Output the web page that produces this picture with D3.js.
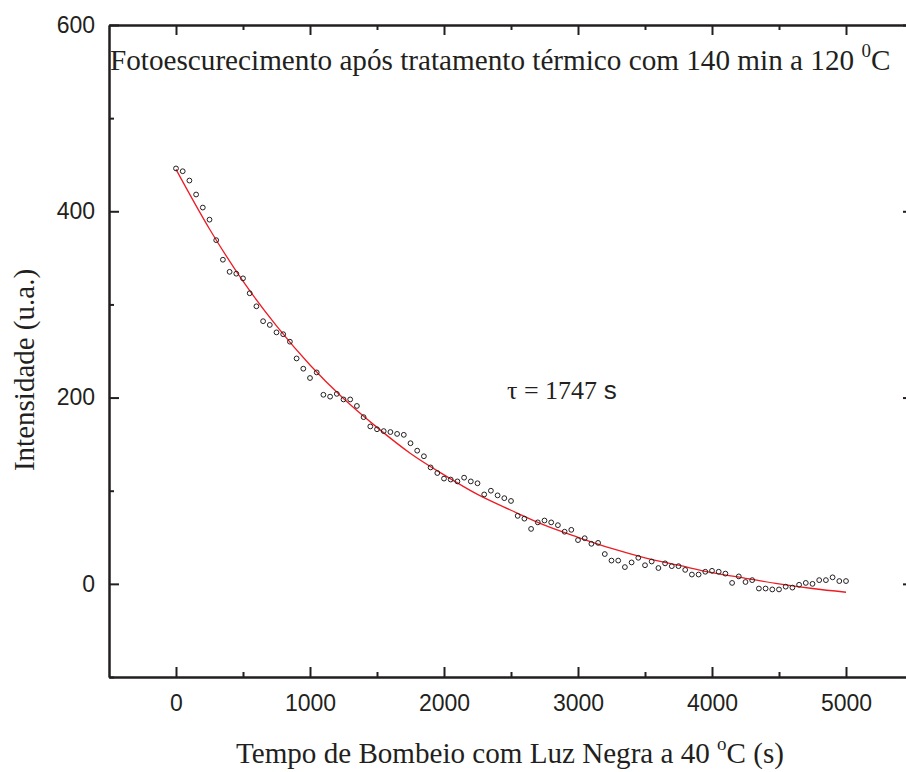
<!DOCTYPE html>
<html>
<head>
<meta charset="utf-8">
<script src="https://cdn.jsdelivr.net/npm/d3@7"></script>
<style>
  body { margin: 0; background: #fff; }
  svg { display: block; }
  .axis path, .axis line { stroke: #231f20; }
  .axis text { font-family: "Liberation Sans", Arial, sans-serif; font-size: 23px; fill: #231f20; }
  .serif { font-family: "Liberation Serif", "Times New Roman", serif; fill: #231f20; }
</style>
</head>
<body>
<svg id="chart"></svg>
<script>
// tempo (s)
const tempo = [0, 50, 100, 150, 200, 250, 300, 350, 400, 450, 500, 550, 600, 650, 700, 750, 800, 850, 900, 950,
  1000, 1050, 1100, 1150, 1200, 1250, 1300, 1350, 1400, 1450, 1500, 1550, 1600, 1650, 1700, 1750, 1800, 1850, 1900, 1950,
  2000, 2050, 2100, 2150, 2200, 2250, 2300, 2350, 2400, 2450, 2500, 2550, 2600, 2650, 2700, 2750, 2800, 2850, 2900, 2950,
  3000, 3050, 3100, 3150, 3200, 3250, 3300, 3350, 3400, 3450, 3500, 3550, 3600, 3650, 3700, 3750, 3800, 3850, 3900, 3950,
  4000, 4050, 4100, 4150, 4200, 4250, 4300, 4350, 4400, 4450, 4500, 4550, 4600, 4650, 4700, 4750, 4800, 4850, 4900, 4950,
  5000];
// intensidade medida (u.a.)
const intensidade = [446, 443, 433, 418, 404, 391, 369, 348, 335, 333, 328, 312, 298, 282, 278, 270, 268, 260, 242, 231,
  221, 227, 203, 201, 204, 198, 198, 191, 179, 169, 166, 164, 163, 161, 160, 151, 143, 137, 125, 119,
  113, 112, 110, 114, 110, 108, 96, 100, 95, 92, 89, 73, 70, 59, 66, 68, 66, 63, 56, 58,
  47, 49, 43, 44, 32, 25, 25, 18, 23, 28, 20, 24, 17, 22, 19, 19, 15, 10, 10, 13,
  14, 13, 11, 1, 8, 2, 4, -5, -5, -6, -6, -3, -4, -1, 1, 0, 4, 4, 7, 3,
  3];
// ajuste exponencial (tau = 1747 s)
const tempoAjuste = [0, 250, 500, 750, 1000, 1250, 1500, 1750, 2000, 2250, 2500,
  2750, 3000, 3250, 3500, 3750, 4000, 4250, 4500, 4750, 5000];
const ajuste = [445, 381, 325, 277, 235, 199, 168, 140, 117, 96, 79,
  63, 50, 38, 28, 20, 12, 6, 0, -5, -9];

const xMajor = [0, 1000, 2000, 3000, 4000, 5000];
const xMinor = [500, 1500, 2500, 3500, 4500];
const yMajor = [0, 200, 400, 600];
const yMinor = [-100, 100, 300, 500];

const width = 906, height = 772;
const margin = { top: 25, left: 109, right: -7, bottom: 95 };

const svg = d3.select('#chart')
  .attr('width', width)
  .attr('height', height);

const xScale = d3.scaleLinear()
  .domain([-500, 5500])
  .range([margin.left, width - margin.right]);

const yScale = d3.scaleLinear()
  .domain([-100, 600])
  .range([height - margin.bottom, margin.top]);

const x0 = xScale.range()[0], x1 = xScale.range()[1];
const y0 = yScale.range()[0], y1 = yScale.range()[1];

function drawAxis(axis, tx, ty) {
  const g = svg.append('g')
    .attr('class', 'axis')
    .attr('transform', `translate(${tx},${ty})`)
    .call(axis);
  g.select('.domain').attr('stroke-width', 2);
  g.selectAll('.tick line').attr('stroke-width', 2);
  return g;
}

// eixo inferior
drawAxis(d3.axisBottom(xScale).tickValues(xMajor).tickSize(-10).tickSizeOuter(0).tickPadding(18).tickFormat(d3.format('d')), 0, y0);
drawAxis(d3.axisBottom(xScale).tickValues(xMinor).tickSize(-5).tickSizeOuter(0).tickFormat(''), 0, y0);
// eixo superior
drawAxis(d3.axisTop(xScale).tickValues(xMajor).tickSize(-10).tickSizeOuter(0).tickFormat(''), 0, y1);
drawAxis(d3.axisTop(xScale).tickValues(xMinor).tickSize(-5).tickSizeOuter(0).tickFormat(''), 0, y1);
// eixo esquerdo
drawAxis(d3.axisLeft(yScale).tickValues(yMajor).tickSize(-10).tickSizeOuter(0).tickPadding(14).tickFormat(d3.format('d')), x0, 0);
drawAxis(d3.axisLeft(yScale).tickValues(yMinor).tickSize(-5).tickSizeOuter(0).tickFormat(''), x0, 0);
// eixo direito
drawAxis(d3.axisRight(yScale).tickValues(yMajor).tickSize(-10).tickSizeOuter(0).tickFormat(''), x1, 0);
drawAxis(d3.axisRight(yScale).tickValues(yMinor).tickSize(-5).tickSizeOuter(0).tickFormat(''), x1, 0);

// curva de ajuste
const line = d3.line()
  .x((d, i) => xScale(tempoAjuste[i]))
  .y(d => yScale(d))
  .curve(d3.curveMonotoneX);

svg.append('path')
  .datum(ajuste)
  .attr('fill', 'none')
  .attr('stroke', '#ed1c24')
  .attr('stroke-width', 1.3)
  .attr('d', line);

// pontos medidos
svg.append('g')
  .selectAll('circle')
  .data(intensidade)
  .join('circle')
  .attr('cx', (d, i) => xScale(tempo[i]))
  .attr('cy', d => yScale(d))
  .attr('r', 2.4)
  .attr('fill', 'none')
  .attr('stroke', '#231f20')
  .attr('stroke-width', 1);

// titulo interno
const titulo = svg.append('text')
  .attr('class', 'serif')
  .attr('x', 110)
  .attr('y', 70)
  .attr('font-size', 29.2);
titulo.append('tspan').text('Fotoescurecimento após tratamento térmico com 140 min a 120 ');
titulo.append('tspan').attr('font-size', 19).attr('dy', -13).text('0');
titulo.append('tspan').attr('dy', 13).text('C');

// tau
const tau = svg.append('text')
  .attr('class', 'serif')
  .attr('x', 507)
  .attr('y', 399)
  .attr('font-size', 26);
tau.append('tspan').text('τ = 1747 ');
tau.append('tspan').attr('font-family', '"Liberation Sans", Arial, sans-serif').text('s');

// titulo eixo x
const xTitle = svg.append('text')
  .attr('class', 'serif')
  .attr('x', 236)
  .attr('y', 763)
  .attr('font-size', 29.1);
xTitle.append('tspan').text('Tempo de Bombeio com Luz Negra a 40 ');
xTitle.append('tspan').attr('font-size', 19).attr('dy', -13).text('o');
xTitle.append('tspan').attr('dy', 13).text('C (s)');

// titulo eixo y
svg.append('text')
  .attr('class', 'serif')
  .attr('text-anchor', 'middle')
  .attr('transform', 'translate(34,370) rotate(-90)')
  .attr('font-size', 29)
  .text('Intensidade (u.a.)');
</script>
</body>
</html>
